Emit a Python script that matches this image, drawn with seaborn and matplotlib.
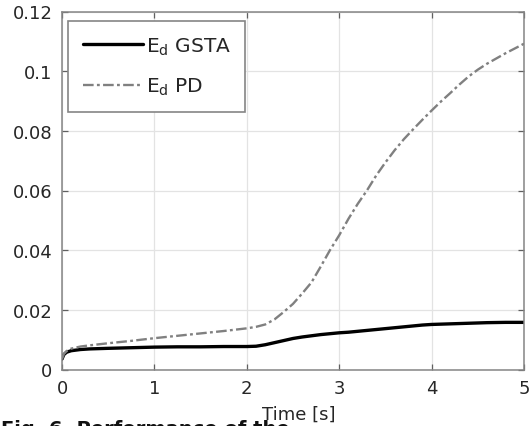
import matplotlib
matplotlib.use("Agg")
import matplotlib.pyplot as plt
import seaborn as sns
import pandas as pd

# Time samples [s]
time = [0.0, 0.02, 0.05, 0.1, 0.2, 0.3, 0.5, 0.75, 1.0, 1.25, 1.5, 1.75,
        2.0, 2.1, 2.2, 2.3, 2.4, 2.5, 2.6, 2.7, 2.8, 2.9, 3.0, 3.1, 3.2,
        3.3, 3.4, 3.5, 3.6, 3.7, 3.8, 3.9, 4.0, 4.1, 4.2, 4.3, 4.4, 4.5,
        4.6, 4.8, 5.0]

# Estimation error with the GSTA scheme
ed_gsta = [0.0035, 0.0050, 0.0058, 0.0063, 0.0067, 0.0069, 0.0071, 0.0073,
           0.0075, 0.0076, 0.0076, 0.0077, 0.0077, 0.0078, 0.0083, 0.0090,
           0.0097, 0.0104, 0.0109, 0.0113, 0.0117, 0.0120, 0.0123, 0.0125,
           0.0128, 0.0131, 0.0134, 0.0137, 0.0140, 0.0143, 0.0146, 0.0149,
           0.0151, 0.0152, 0.0153, 0.0154, 0.0155, 0.0156, 0.0157, 0.0158,
           0.0158]

# Estimation error with the PD scheme
ed_pd = [0.0035, 0.0052, 0.0062, 0.0070, 0.0077, 0.0081, 0.0088, 0.0096,
         0.0105, 0.0113, 0.0121, 0.0129, 0.0138, 0.0143, 0.0151, 0.0168,
         0.0193, 0.0220, 0.0255, 0.0292, 0.0345, 0.0400, 0.0450, 0.0505,
         0.0555, 0.0600, 0.0650, 0.0694, 0.0735, 0.0772, 0.0805, 0.0837,
         0.0868, 0.0898, 0.0926, 0.0955, 0.0982, 0.1005, 0.1025, 0.1060,
         0.1092]

x_ticks = [0, 1, 2, 3, 4, 5]
y_ticks = [0, 0.02, 0.04, 0.06, 0.08, 0.1, 0.12]
y_tick_labels = ["0", "0.02", "0.04", "0.06", "0.08", "0.1", "0.12"]

sns.set_theme(style="whitegrid")
plt.rcParams["font.family"] = ["DejaVu Sans"]
plt.rcParams["mathtext.default"] = "regular"

df = pd.DataFrame({"t": time, "gsta": ed_gsta, "pd": ed_pd})

fig = plt.figure(figsize=(5.31, 4.27), dpi=100)
ax = fig.add_axes([62 / 531, 1 - 370.5 / 427, 462 / 531, 358 / 427])

sns.lineplot(data=df, x="t", y="gsta", ax=ax, color="black", linewidth=2.4,
             label=r"$E_{d}$ GSTA")
sns.lineplot(data=df, x="t", y="pd", ax=ax, color="#808080", linewidth=1.7,
             linestyle=(0, (4.5, 1.4, 1.2, 1.4)), label=r"$E_{d}$ PD")

ax.set_xlim(0, 5)
ax.set_ylim(0, 0.12)
ax.set_xticks(x_ticks)
ax.set_xticklabels([str(v) for v in x_ticks])
ax.set_yticks(y_ticks)
ax.set_yticklabels(y_tick_labels)

ax.set_facecolor("white")
ax.grid(True, color="#e3e3e3", linewidth=0.9)
for s in ax.spines.values():
    s.set_visible(True)
    s.set_color("#858585")
    s.set_linewidth(1.1)

ax.tick_params(axis="both", which="major", direction="in", length=4,
               width=0.9, color="#606060", labelsize=13,
               labelcolor="#262626", top=True, right=True, bottom=True,
               left=True, pad=7)

ax.set_ylabel("")
ax.set_xlabel("Time [s]", fontsize=13, color="#262626")
ax.xaxis.set_label_coords((299 - 62) / 462, (370.5 - 406) / 358)

leg = ax.legend(loc="upper left", bbox_to_anchor=(6 / 462, (370.5 - 22) / 358),
                borderaxespad=0, fontsize=14.5, handlelength=3.0,
                handletextpad=0.15, labelspacing=0.95, borderpad=0.72,
                fancybox=False, framealpha=1, edgecolor="#858585")
leg.get_frame().set_linewidth(1.2)
for txt in leg.get_texts():
    txt.set_color("#262626")

# Caption line below the plot, clipped by the figure edge
fig.text(0.002, (427 - 420) / 427, "Fig. 6. Performance of the",
         fontsize=14, fontweight="bold", ha="left", va="top", color="#111111")

fig.savefig("out.png", dpi=100)
